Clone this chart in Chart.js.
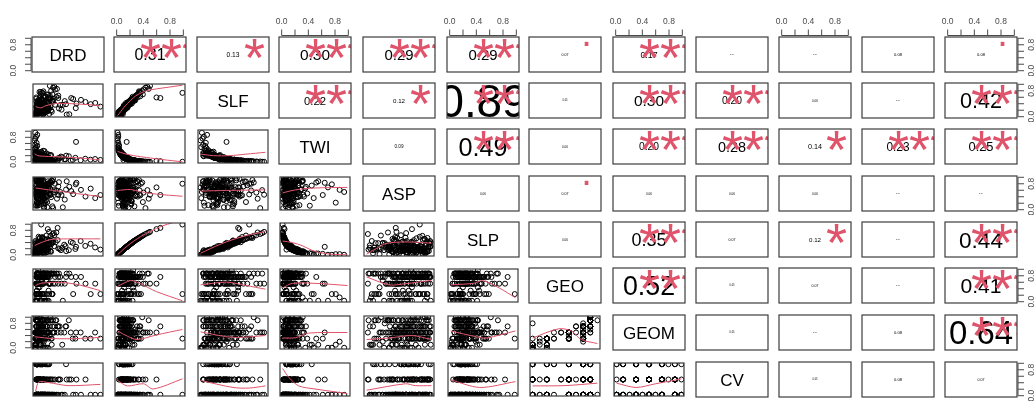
<!DOCTYPE html>
<html>
<head>
<meta charset="utf-8">
<script src="https://cdn.jsdelivr.net/npm/chart.js@4.4.1/dist/chart.umd.min.js"></script>
<style>
  html, body { margin: 0; padding: 0; background: #fff; }
  #grid { position: relative; width: 1035px; height: 401px; overflow: hidden; background: #fff; }
  #grid canvas { position: absolute; }
</style>
</head>
<body>
<div id="grid"></div>
<script>
// ---- observations (scaled 0..1), one array per variable ----
const DRD = [0.01,0.02,0.00,0.03,0.01,0.02,0.04,0.00,0.01,0.03,
  0.02,0.05,0.10,0.03,0.15,0.07,0.01,0.12,0.20,0.04,
  0.08,0.18,0.06,0.11,0.25,0.03,0.14,0.09,0.02,0.22,
  0.05,0.28,0.01,0.16,0.10,0.06,0.32,0.13,0.19,0.04,
  0.21,0.08,0.03,0.26,0.02,0.12,0.17,0.35,0.07,0.24,
  0.01,0.14,0.09,0.30,0.05,0.19,0.11,0.04,0.27,0.08,
  0.13,0.06,0.02,0.23,0.15,0.18,0.01,0.29,0.10,0.05,
  0.16,0.04,0.33,0.07,0.20,0.12,0.03,0.09,0.22,0.14,
  0.38,0.45,0.52,0.58,0.63,0.70,0.42,0.77,0.85,0.48,0.92,0.55,1.00,
  0.20,0.35,0.10,
  0.03,0.07,0.01,0.12,0.05,0.09,0.02,0.15,0.04,0.11,
  0.06,0.18,0.02,0.08,0.13,0.03,0.21,0.05,0.10,0.01,
  0.14,0.07,0.24,0.03,0.09,0.16,0.04,0.12,0.02,0.19,
  0.06,0.27,0.08,0.01,0.13,0.05,0.22,0.10,0.03,0.17,
  0.07,0.02,0.11,0.30,0.04,0.15,0.06,0.09,0.01,0.20,
  0.12,0.05,0.26,0.08,0.03,0.14,0.18,0.02,0.10,0.06,
  0.40,0.23,0.04,0.11,0.07,0.16,0.01,0.13,0.47,0.05,
  0.09,0.19,0.03,0.12,0.08,0.25,0.02,0.15,0.06,0.36,
  0.10,0.04,0.21,0.07,0.13,0.01,0.17,0.05,0.62,0.11];
const V2 = [0.00,0.01,0.00,0.01,0.02,0.00,0.01,0.02,0.00,0.01,
  0.04,0.07,0.05,0.09,0.12,0.10,0.06,0.13,0.15,0.05,
  0.08,0.17,0.16,0.11,0.19,0.09,0.22,0.13,0.07,0.20,
  0.14,0.24,0.08,0.18,0.27,0.11,0.23,0.15,0.30,0.10,
  0.19,0.32,0.12,0.26,0.06,0.35,0.17,0.28,0.21,0.38,
  0.09,0.31,0.14,0.40,0.21,0.11,0.34,0.24,0.43,0.16,
  0.18,0.36,0.07,0.27,0.13,0.39,0.23,0.46,0.17,0.10,
  0.29,0.20,0.48,0.14,0.25,0.33,0.08,0.22,0.50,0.15,
  0.10,0.18,0.08,0.22,0.14,0.26,0.12,0.16,0.20,0.06,0.13,0.24,0.09,
  0.60,0.66,1.00,
  0.05,0.12,0.03,0.08,0.16,0.06,0.10,0.02,0.14,0.09,
  0.18,0.04,0.11,0.07,0.21,0.13,0.05,0.09,0.15,0.03,
  0.10,0.19,0.06,0.12,0.25,0.08,0.14,0.04,0.17,0.11,
  0.07,0.22,0.13,0.02,0.09,0.16,0.28,0.05,0.12,0.08,
  0.20,0.10,0.03,0.15,0.07,0.11,0.24,0.06,0.13,0.18,
  0.04,0.09,0.31,0.12,0.07,0.16,0.10,0.05,0.21,0.14,
  0.08,0.13,0.02,0.19,0.11,0.06,0.26,0.09,0.15,0.04,
  0.12,0.07,0.17,0.10,0.34,0.05,0.14,0.08,0.22,0.11,
  0.06,0.16,0.09,0.13,0.03,0.20,0.07,0.12,0.10,0.18];
const SLF = [0.02,0.05,0.00,0.08,0.04,0.01,0.10,0.06,0.03,0.12,
  0.12,0.10,0.20,0.25,0.22,0.30,0.08,0.36,0.28,0.16,
  0.22,0.42,0.30,0.20,0.48,0.14,0.40,0.33,0.21,0.52,
  0.35,0.55,0.12,0.46,0.50,0.30,0.62,0.26,0.68,0.24,
  0.40,0.72,0.34,0.50,0.18,0.64,0.44,0.66,0.45,0.82,
  0.28,0.60,0.38,0.86,0.52,0.25,0.75,0.48,0.92,0.36,
  0.42,0.78,0.22,0.58,0.30,0.70,0.56,0.95,0.38,0.27,
  0.62,0.44,0.88,0.32,0.58,0.80,0.18,0.54,0.98,0.40,
  0.35,0.48,0.05,0.55,0.40,0.52,0.36,0.45,0.38,0.04,0.42,0.58,0.30,
  0.60,0.58,0.75,
  0.18,0.22,0.10,0.24,0.40,0.08,0.27,0.12,0.36,0.15,
  0.45,0.14,0.30,0.12,0.50,0.34,0.06,0.26,0.32,0.16,
  0.20,0.48,0.18,0.30,0.55,0.20,0.38,0.05,0.42,0.25,
  0.22,0.46,0.28,0.09,0.20,0.38,0.65,0.15,0.35,0.17,
  0.40,0.28,0.04,0.36,0.19,0.26,0.58,0.14,0.30,0.44,
  0.12,0.22,0.70,0.27,0.20,0.34,0.24,0.09,0.52,0.30,
  0.20,0.32,0.07,0.42,0.28,0.16,0.60,0.19,0.38,0.10,
  0.29,0.17,0.40,0.22,0.78,0.13,0.31,0.21,0.50,0.24,
  0.15,0.35,0.23,0.28,0.08,0.47,0.18,0.26,0.25,0.40];
const TWI = [0.95,0.82,0.70,0.62,0.55,0.48,0.88,0.42,0.76,0.38,
  0.28,0.20,0.33,0.15,0.12,0.22,0.25,0.10,0.08,0.30,
  0.18,0.09,0.12,0.16,0.06,0.24,0.05,0.14,0.21,0.07,
  0.11,0.04,0.26,0.08,0.03,0.19,0.06,0.13,0.02,0.17,
  0.07,0.03,0.15,0.05,0.31,0.02,0.10,0.04,0.06,0.01,
  0.20,0.02,0.12,0.01,0.07,0.17,0.03,0.05,0.01,0.14,
  0.09,0.02,0.23,0.04,0.13,0.01,0.06,0.00,0.10,0.18,
  0.03,0.08,0.00,0.12,0.05,0.02,0.22,0.06,0.00,0.11,
  0.12,0.08,0.18,0.06,0.65,0.05,0.15,0.10,0.07,0.20,0.09,0.04,0.06,
  0.03,0.02,0.00,
  0.22,0.12,0.30,0.16,0.08,0.25,0.14,0.35,0.10,0.18,
  0.06,0.27,0.13,0.20,0.05,0.11,0.24,0.15,0.09,0.32,
  0.14,0.05,0.21,0.12,0.03,0.17,0.09,0.28,0.06,0.13,
  0.19,0.04,0.10,0.45,0.16,0.07,0.02,0.23,0.11,0.17,
  0.05,0.13,0.29,0.08,0.18,0.12,0.03,0.21,0.10,0.06,
  0.24,0.15,0.01,0.11,0.19,0.07,0.14,0.26,0.04,0.09,
  0.17,0.10,0.52,0.05,0.12,0.20,0.02,0.15,0.08,0.31,
  0.11,0.18,0.06,0.13,0.01,0.22,0.09,0.16,0.04,0.12,
  0.20,0.07,0.14,0.10,0.36,0.05,0.17,0.11,0.13,0.06];
const ASP = [0.55,0.20,0.70,0.45,0.90,0.35,0.62,0.10,0.80,0.50,
  0.62,0.85,0.40,0.15,0.75,0.95,0.52,0.30,0.68,0.88,
  0.45,0.05,0.72,0.58,0.92,0.38,0.25,0.80,0.65,0.48,
  0.98,0.55,0.12,0.70,0.42,0.83,0.60,0.35,0.90,0.20,
  0.50,0.77,0.66,0.08,0.93,0.44,0.57,0.73,0.28,0.86,
  0.64,0.40,0.96,0.53,0.18,0.79,0.47,0.69,0.02,0.91,
  0.36,0.82,0.58,0.45,0.74,0.22,0.99,0.61,0.51,0.87,
  0.43,0.67,0.33,0.78,0.56,0.94,0.10,0.71,0.46,0.63,
  0.55,0.30,0.72,0.48,0.85,0.62,0.05,0.40,0.66,0.90,0.35,0.58,0.45,
  0.70,0.45,0.82,
  0.48,0.72,0.91,0.35,0.60,0.84,0.22,0.67,0.95,0.53,
  0.78,0.41,0.63,0.88,0.14,0.57,0.75,0.32,0.99,0.46,
  0.69,0.85,0.38,0.54,0.93,0.27,0.71,0.62,0.44,0.81,
  0.59,0.97,0.49,0.76,0.03,0.66,0.87,0.40,0.55,0.73,
  0.92,0.37,0.64,0.82,0.51,0.18,0.70,0.96,0.43,0.61,
  0.77,0.52,0.89,0.33,0.68,0.83,0.58,0.94,0.25,0.74,
  0.45,0.65,0.86,0.39,0.79,0.56,0.98,0.07,0.63,0.90,
  0.54,0.81,0.42,0.70,0.60,0.93,0.34,0.76,0.50,0.87,
  0.66,0.29,0.84,0.47,0.72,0.97,0.57,0.12,0.80,0.64];
const SLP = [0.00,0.02,0.00,0.03,0.04,0.01,0.02,0.05,0.00,0.03,
  0.08,0.14,0.10,0.17,0.23,0.19,0.12,0.24,0.28,0.10,
  0.15,0.31,0.29,0.21,0.34,0.17,0.39,0.24,0.14,0.36,
  0.26,0.42,0.15,0.33,0.47,0.21,0.41,0.28,0.51,0.19,
  0.34,0.54,0.23,0.45,0.12,0.58,0.31,0.48,0.38,0.62,
  0.17,0.52,0.26,0.64,0.38,0.21,0.56,0.42,0.68,0.29,
  0.33,0.59,0.14,0.47,0.24,0.63,0.41,0.71,0.31,0.19,
  0.50,0.36,0.73,0.26,0.44,0.55,0.15,0.39,0.75,0.28,
  0.19,0.33,0.15,0.39,0.26,0.45,0.23,0.29,0.36,0.12,0.24,0.42,0.17,
  0.84,0.88,0.99,
  0.10,0.23,0.06,0.15,0.29,0.12,0.19,0.04,0.26,0.17,
  0.33,0.08,0.21,0.14,0.38,0.24,0.10,0.17,0.28,0.06,
  0.19,0.34,0.12,0.23,0.44,0.15,0.26,0.08,0.31,0.21,
  0.14,0.39,0.24,0.04,0.17,0.29,0.48,0.10,0.23,0.15,
  0.36,0.19,0.06,0.28,0.14,0.21,0.42,0.12,0.24,0.33,
  0.08,0.17,0.52,0.23,0.14,0.29,0.19,0.10,0.38,0.26,
  0.15,0.24,0.04,0.34,0.21,0.12,0.45,0.17,0.28,0.08,
  0.23,0.14,0.31,0.19,0.56,0.10,0.26,0.15,0.39,0.21,
  0.12,0.29,0.17,0.24,0.06,0.36,0.14,0.23,0.19,0.33];
const GEO = [0.00,0.22,0.00,0.56,0.00,0.22,0.11,0.00,0.22,0.56,
  0.78,0.89,0.56,0.22,0.78,0.89,0.00,0.56,0.89,0.78,
  0.22,0.89,0.78,0.56,0.89,0.00,0.78,0.89,0.33,0.56,
  0.78,0.89,0.22,0.67,0.78,0.56,0.89,0.00,0.78,0.44,
  0.89,0.56,0.78,0.22,0.11,0.78,0.89,0.56,0.78,0.89,
  0.00,0.78,0.89,0.56,0.22,0.78,0.89,1.00,0.56,0.78,
  0.89,0.22,0.78,0.56,0.89,0.78,0.00,0.89,0.67,0.22,
  0.78,0.56,0.89,0.78,0.33,0.22,0.89,0.78,0.56,0.00,
  0.78,0.56,0.89,0.22,0.56,0.78,0.00,0.56,0.22,0.89,0.56,0.78,0.22,
  0.56,0.78,0.22,
  0.89,0.78,0.56,0.89,0.22,0.78,0.89,0.00,0.56,0.78,
  0.78,0.89,0.00,0.56,0.89,0.78,0.22,0.89,0.78,0.56,
  0.22,0.78,0.89,0.56,0.78,0.00,0.89,0.78,0.33,0.89,
  0.56,0.89,0.78,0.22,0.89,0.56,0.78,0.00,0.89,0.78,
  0.78,0.56,0.89,0.78,0.22,0.89,0.44,0.78,0.56,0.00,
  0.89,0.78,0.22,0.56,0.89,0.78,0.00,0.89,0.67,0.78,
  0.56,0.89,0.78,0.22,0.78,0.89,0.56,0.11,0.78,0.89,
  0.00,0.78,0.89,0.56,0.78,0.22,0.89,0.78,0.56,0.89,
  0.78,0.89,0.56,0.00,0.89,0.78,0.22,0.89,0.78,0.56];
const GEOM = [0.0,0.1,0.0,0.3,0.1,0.0,0.2,0.1,0.0,0.3,
  0.7,0.9,0.5,0.3,0.4,1.0,0.0,0.3,0.9,0.7,
  0.1,0.7,0.5,0.5,0.9,0.1,0.2,1.0,0.3,0.5,
  0.5,0.9,0.3,0.7,0.6,0.5,0.9,0.0,0.7,0.5,
  0.9,0.3,0.5,0.1,0.3,0.7,0.5,0.5,0.8,1.0,
  0.3,0.5,0.9,0.5,0.3,0.7,0.6,0.9,0.5,0.3,
  0.7,0.3,0.5,0.4,0.9,0.5,0.1,0.5,0.7,0.3,
  0.3,0.5,0.9,0.5,0.5,0.3,0.7,0.3,0.5,0.8,
  0.7,0.5,0.9,0.3,0.5,0.5,0.1,0.3,0.3,0.7,0.5,0.5,0.3,
  0.5,0.7,0.3,
  0.9,0.7,0.5,0.9,0.3,0.7,1.0,0.0,0.5,0.7,
  0.5,0.9,0.1,0.3,0.9,0.5,0.3,0.9,0.7,0.5,
  0.3,0.7,0.9,0.5,0.5,0.0,1.0,0.7,0.3,0.9,
  0.5,0.7,0.3,0.1,0.9,0.5,0.5,0.1,0.7,0.3,
  0.5,0.3,0.9,0.7,0.3,0.9,0.5,0.3,0.5,0.0,
  0.9,0.5,0.3,0.5,0.7,0.3,0.0,0.9,0.5,0.7,
  0.5,0.7,0.3,0.3,0.5,0.9,0.5,0.1,0.7,1.0,
  0.1,0.5,0.9,0.3,0.7,0.3,0.9,0.5,0.5,0.7,
  0.3,0.9,0.5,0.1,0.7,0.5,0.3,0.9,0.3,0.5];
const CV = [0,0,0,0,0.5,0,0,0,0,0,
  0,0.5,0,1,0,0.5,0,0,1,0.5,
  0,0,0.5,1,0,0.5,0,0,1,0.5,
  0.5,0,1,0,0,0.5,0,1,0,0.5,
  0,0.5,1,0,0.5,0,0,0.5,1,0,
  1,0,0.5,0,0.5,1,0,0,0.5,0,
  0.5,0,1,0,0,0.5,1,0,0.5,0,
  0,0.5,0,1,0,0.5,1,0,0,0.5,
  0.5,0,0.5,0,0.5,0,0,0.5,0,0.5,0,0.5,0,
  0.5,0,0,
  0,1,0,0.5,0,0,1,0,0.5,0,
  1,0,0.5,0,0,1,0,0.5,0,0,
  0,0.5,0,1,0,0.5,0,0,1,0,
  0.5,0,0,1,0.5,0,0,0.5,0,1,
  0,0,1,0.5,0,0,0.5,1,0,0,
  0.5,1,0,0,0.5,0,1,0,0,0.5,
  0,0.5,0,0,1,0,0.5,0,1,0,
  1,0,0.5,0,0,0.5,0,1,0,0.5,
  0,0,1,0.5,0,0,0.5,0,0,1];

// ---- variable names on the diagonal, one per row ----
const rowNames = ['DRD', 'SLF', 'TWI', 'ASP', 'SLP', 'GEO', 'GEOM', 'CV'];
const diagCol = [0, 2, 3, 4, 5, 6, 7, 8];
const colData = [DRD, V2, SLF, TWI, ASP, SLP, GEO, GEOM, CV];
const rowData = [DRD, SLF, TWI, ASP, SLP, GEO, GEOM, CV];

// ---- correlation coefficients and significance codes (upper panels) ----
const corRow0 = [null, 0.31, 0.13, 0.30, 0.29, 0.29, 0.07, 0.17, 0.04, 0.04, 0.08, 0.08];
const sigRow0 = ['', '***', '*', '***', '***', '***', '.', '***', '', '', '', '.'];
const corRow1 = [null, null, null, 0.22, 0.12, 0.89, 0.05, 0.30, 0.20, 0.06, 0.04, 0.42];
const sigRow1 = ['', '', '', '***', '*', '***', '', '***', '***', '', '', '***'];
const corRow2 = [null, null, null, null, 0.09, 0.49, 0.06, 0.20, 0.28, 0.14, 0.23, 0.25];
const sigRow2 = ['', '', '', '', '', '***', '', '***', '***', '*', '***', '***'];
const corRow3 = [null, null, null, null, null, 0.06, 0.07, 0.06, 0.06, 0.06, 0.04, 0.04];
const sigRow3 = ['', '', '', '', '', '', '.', '', '', '', '', ''];
const corRow4 = [null, null, null, null, null, null, 0.06, 0.35, 0.07, 0.12, 0.04, 0.44];
const sigRow4 = ['', '', '', '', '', '', '', '***', '', '*', '', '***'];
const corRow5 = [null, null, null, null, null, null, null, 0.52, 0.05, 0.07, 0.04, 0.41];
const sigRow5 = ['', '', '', '', '', '', '', '***', '', '', '', '***'];
const corRow6 = [null, null, null, null, null, null, null, null, 0.05, 0.04, 0.08, 0.64];
const sigRow6 = ['', '', '', '', '', '', '', '', '', '', '', '***'];
const corRow7 = [null, null, null, null, null, null, null, null, null, 0.05, 0.08, 0.07];
const sigRow7 = ['', '', '', '', '', '', '', '', '', '', '', ''];
const corRows = [corRow0, corRow1, corRow2, corRow3, corRow4, corRow5, corRow6, corRow7];
const sigRows = [sigRow0, sigRow1, sigRow2, sigRow3, sigRow4, sigRow5, sigRow6, sigRow7];

// ---- smoothed trend lines for the lower panels, [x, y] knots per panel ----
const smoothRow1 = [
  [[0,0.30],[0.08,0.26],[0.16,0.33],[0.3,0.40],[0.5,0.40],[0.7,0.38],[0.9,0.35],[1,0.32]],
  [[0,0.01],[0.05,0.14],[0.1,0.28],[0.2,0.50],[0.3,0.68],[0.45,0.82],[0.6,0.88],[0.8,0.94],[1,1.0]]
];
const smoothRow2 = [
  [[0,0.26],[0.05,0.20],[0.15,0.18],[0.4,0.16],[0.7,0.12],[1,0.06]],
  [[0,0.34],[0.1,0.27],[0.25,0.20],[0.45,0.14],[0.7,0.07],[1,0.0]],
  [[0,0.25],[0.2,0.20],[0.45,0.20],[0.7,0.25],[1,0.31]]
];
const smoothRow3 = [
  [[0,0.68],[0.2,0.62],[0.45,0.55],[0.7,0.48],[1,0.40]],
  [[0,0.60],[0.2,0.63],[0.35,0.56],[0.6,0.48],[1,0.41]],
  [[0,0.58],[0.4,0.60],[0.7,0.61],[1,0.62]],
  [[0,0.52],[0.2,0.62],[0.5,0.68],[1,0.70]]
];
const smoothRow4 = [
  [[0,0.30],[0.1,0.40],[0.25,0.50],[0.5,0.52],[1,0.52]],
  [[0,0.0],[0.1,0.20],[0.2,0.37],[0.3,0.52],[0.4,0.65],[0.5,0.76],[0.6,0.86],[0.7,0.95],[1,1.15]],
  [[0,0.05],[0.15,0.20],[0.3,0.34],[0.5,0.50],[0.75,0.65],[1,0.76]],
  [[0,0.45],[0.15,0.40],[0.3,0.30],[0.45,0.15],[0.6,0.06],[0.8,0.01],[1,0.0]],
  [[0,0.02],[0.15,0.20],[0.3,0.37],[0.6,0.42],[1,0.38]]
];
const smoothRow5 = [
  [[0,0.50],[0.1,0.58],[0.4,0.60],[0.6,0.55],[0.8,0.45],[1,0.33]],
  [[0,0.47],[0.2,0.66],[0.35,0.56],[0.6,0.30],[1,0.0]],
  [[0,0.52],[0.4,0.61],[0.7,0.50],[1,0.38]],
  [[0,0.42],[0.15,0.57],[0.5,0.57],[1,0.50]],
  [[0,0.78],[0.35,0.52],[0.6,0.56],[1,0.67]],
  [[0,0.52],[0.35,0.57],[0.5,0.66],[0.75,0.42],[1,0.10]]
];
const smoothRow6 = [
  [[0,0.36],[0.3,0.30],[0.6,0.30],[1,0.34]],
  [[0,0.55],[0.15,0.38],[0.3,0.27],[0.6,0.42],[1,0.60]],
  [[0,0.52],[0.5,0.34],[1,0.40]],
  [[0,0.32],[0.2,0.33],[0.4,0.48],[1,0.50]],
  [[0,0.27],[0.35,0.32],[0.7,0.40],[1,0.27]],
  [[0,0.55],[0.4,0.36],[0.55,0.32],[1,0.55]],
  [[0,0.32],[0.4,0.62],[0.6,0.55],[0.75,0.27],[1,0.14]]
];
const smoothRow7 = [
  [[0,0.12],[0.05,0.42],[0.2,0.40],[0.5,0.30],[1,0.34]],
  [[0,0.47],[0.15,0.29],[0.4,0.36],[0.55,0.19],[1,0.52]],
  [[0,0.47],[0.5,0.24],[0.75,0.22],[1,0.29]],
  [[0,0.86],[0.1,0.56],[0.25,0.29],[0.5,0.19],[1,0.04]],
  [[0,0.15],[0.6,0.36],[0.75,0.30],[1,0.30]],
  [[0,0.49],[0.45,0.24],[1,0.43]],
  [[0,0.29],[0.5,0.30],[1,0.38]],
  [[0,0.38],[0.3,0.24],[0.6,0.36],[1,0.52]]
];
const smoothRows = [null, smoothRow1, smoothRow2, smoothRow3, smoothRow4, smoothRow5, smoothRow6, smoothRow7];

// ---- axis ticks ----
const TICKS = [0, 0.2, 0.4, 0.6, 0.8, 1.0];
const TOP_LABELS = ['0.0', '', '0.4', '', '0.8', ''];
const SIDE_LABELS = ['0.0', '', '', '', '0.8', ''];

// ---- layout and style ----
const colLeft = [32, 114, 197, 279, 363, 447, 529, 613, 696, 779, 862, 945];
const rowTop = [37, 83, 129, 176, 222, 268, 315, 362];
const BOX_W = 72, BOX_H = 35;
const topAxisCols = [1, 3, 5, 7, 9, 11];
const leftAxisRows = [0, 2, 4, 6];
const rightAxisRows = [0, 1, 3, 5, 7];
const FONT = '"Liberation Sans", Arial, Helvetica, sans-serif';
const RED = '#DF536B';
const BOX_COLOR = '#3c3c3c';
const AXIS_COLOR = '#4a4a4a';
const LABEL_PX = 17;     // diagonal names
const CEX_PX = 51.5;     // correlation text size per unit |r|
const STAR_PX = 54;      // significance stars
const DOT_PX = 38;       // weak-significance dot
const TICK_PX = 8.5;
const SIG_POS = -0.04 + 0.8 * 1.08;   // 80% across the panel in data units

const panelPlugin = {
  id: 'panel',
  afterDraw(chart, _args, o) {
    const { ctx, chartArea: a } = chart;
    const x = chart.scales.x, y = chart.scales.y;
    const cx = x.getPixelForValue(0.5), cy = y.getPixelForValue(0.5);

    ctx.save();
    ctx.beginPath();
    ctx.rect(a.left, a.top, a.right - a.left, a.bottom - a.top);
    ctx.clip();
    ctx.textAlign = 'center';
    ctx.textBaseline = 'alphabetic';
    if (o.kind === 'diag') {
      ctx.font = LABEL_PX + 'px ' + FONT;
      ctx.fillStyle = '#000';
      ctx.fillText(rowNames[o.r], cx, cy + 0.358 * LABEL_PX);
    } else if (o.kind === 'upper') {
      const rv = corRows[o.r][o.c];
      const sg = sigRows[o.r][o.c];
      const f = CEX_PX * Math.abs(rv);
      ctx.font = f.toFixed(2) + 'px ' + FONT;
      ctx.fillStyle = '#000';
      ctx.fillText(rv.toFixed(2), cx, cy + 0.358 * f);
      if (sg) {
        const sx = x.getPixelForValue(SIG_POS), sy = y.getPixelForValue(SIG_POS);
        ctx.fillStyle = RED;
        if (sg === '.') {
          ctx.font = DOT_PX + 'px ' + FONT;
          ctx.fillText(sg, sx, sy + 0.05 * DOT_PX);
        } else {
          ctx.font = STAR_PX + 'px ' + FONT;
          ctx.fillText(sg, sx, sy + 0.585 * STAR_PX);
        }
      }
    }
    ctx.restore();

    // panel frame
    ctx.save();
    ctx.strokeStyle = BOX_COLOR;
    ctx.lineWidth = 1.2;
    ctx.strokeRect(a.left, a.top, a.right - a.left, a.bottom - a.top);
    ctx.restore();

    // outer axes
    ctx.save();
    ctx.strokeStyle = AXIS_COLOR;
    ctx.fillStyle = AXIS_COLOR;
    ctx.lineWidth = 1;
    ctx.font = TICK_PX + 'px ' + FONT;
    if (o.hasTop) {
      const ay = a.top - 1.5;
      ctx.beginPath();
      ctx.moveTo(x.getPixelForValue(TICKS[0]), ay);
      ctx.lineTo(x.getPixelForValue(TICKS[TICKS.length - 1]), ay);
      TICKS.forEach(v => {
        const px = x.getPixelForValue(v);
        ctx.moveTo(px, ay); ctx.lineTo(px, ay - 6);
      });
      ctx.stroke();
      ctx.textAlign = 'center';
      ctx.textBaseline = 'alphabetic';
      TICKS.forEach((v, i) => {
        if (TOP_LABELS[i]) ctx.fillText(TOP_LABELS[i], x.getPixelForValue(v), ay - 12);
      });
    }
    const sideAxis = (ax, dir, labelX) => {
      ctx.beginPath();
      ctx.moveTo(ax, y.getPixelForValue(TICKS[0]));
      ctx.lineTo(ax, y.getPixelForValue(TICKS[TICKS.length - 1]));
      TICKS.forEach(v => {
        const py = y.getPixelForValue(v);
        ctx.moveTo(ax, py); ctx.lineTo(ax + dir * 6, py);
      });
      ctx.stroke();
      TICKS.forEach((v, i) => {
        if (!SIDE_LABELS[i]) return;
        ctx.save();
        ctx.translate(labelX, y.getPixelForValue(v));
        ctx.rotate(-Math.PI / 2);
        ctx.textAlign = 'center';
        ctx.textBaseline = 'middle';
        ctx.fillText(SIDE_LABELS[i], 0, 0);
        ctx.restore();
      });
    };
    if (o.hasLeft) sideAxis(a.left - 1, -1, a.left - 18);
    if (o.hasRight) sideAxis(a.right + 1, 1, a.right + 15);
    ctx.restore();
  }
};

const grid = document.getElementById('grid');

function makePanel(r, c) {
  const dc = diagCol[r];
  const kind = c === dc ? 'diag' : (c > dc ? 'upper' : 'lower');
  const hasTop = r === 0 && topAxisCols.includes(c);
  const hasLeft = c === 0 && leftAxisRows.includes(r);
  const hasRight = c === 11 && rightAxisRows.includes(r);
  const pad = { top: hasTop ? 37 : 4, left: hasLeft ? 32 : 4, right: hasRight ? 20 : 4, bottom: 4 };
  const w = BOX_W + pad.left + pad.right, h = BOX_H + pad.top + pad.bottom;

  const cv = document.createElement('canvas');
  cv.width = w; cv.height = h;
  cv.style.left = (colLeft[c] - pad.left) + 'px';
  cv.style.top = (rowTop[r] - pad.top) + 'px';
  cv.style.width = w + 'px';
  cv.style.height = h + 'px';
  grid.appendChild(cv);

  const datasets = [];
  if (kind === 'lower') {
    const xs = colData[c], ys = rowData[r];
    datasets.push({
      type: 'scatter',
      data: xs.map((v, k) => ({ x: v, y: ys[k] })),
      pointRadius: 2.5,
      pointBorderWidth: 1,
      borderColor: '#000',
      backgroundColor: 'rgba(0,0,0,0)',
      pointBorderColor: '#000',
      pointBackgroundColor: 'rgba(0,0,0,0)',
      showLine: false,
      clip: 0,
      order: 1
    });
    datasets.push({
      type: 'line',
      data: smoothRows[r][c].map(([px, py]) => ({ x: px, y: py })),
      borderColor: RED,
      borderWidth: 1,
      pointRadius: 0,
      tension: 0.3,
      fill: false,
      clip: 0,
      order: 0
    });
  }

  new Chart(cv, {
    type: 'scatter',
    data: { datasets },
    options: {
      responsive: false,
      animation: false,
      events: [],
      layout: { padding: pad },
      plugins: {
        legend: { display: false },
        tooltip: { enabled: false },
        panel: { kind, r, c, hasTop, hasLeft, hasRight }
      },
      scales: {
        x: { type: 'linear', min: -0.04, max: 1.04, display: false },
        y: { type: 'linear', min: -0.04, max: 1.04, display: false }
      }
    },
    plugins: [panelPlugin]
  });
}

for (let r = 0; r < 8; r++) {
  for (let c = 0; c < 12; c++) makePanel(r, c);
}
</script>
</body>
</html>
